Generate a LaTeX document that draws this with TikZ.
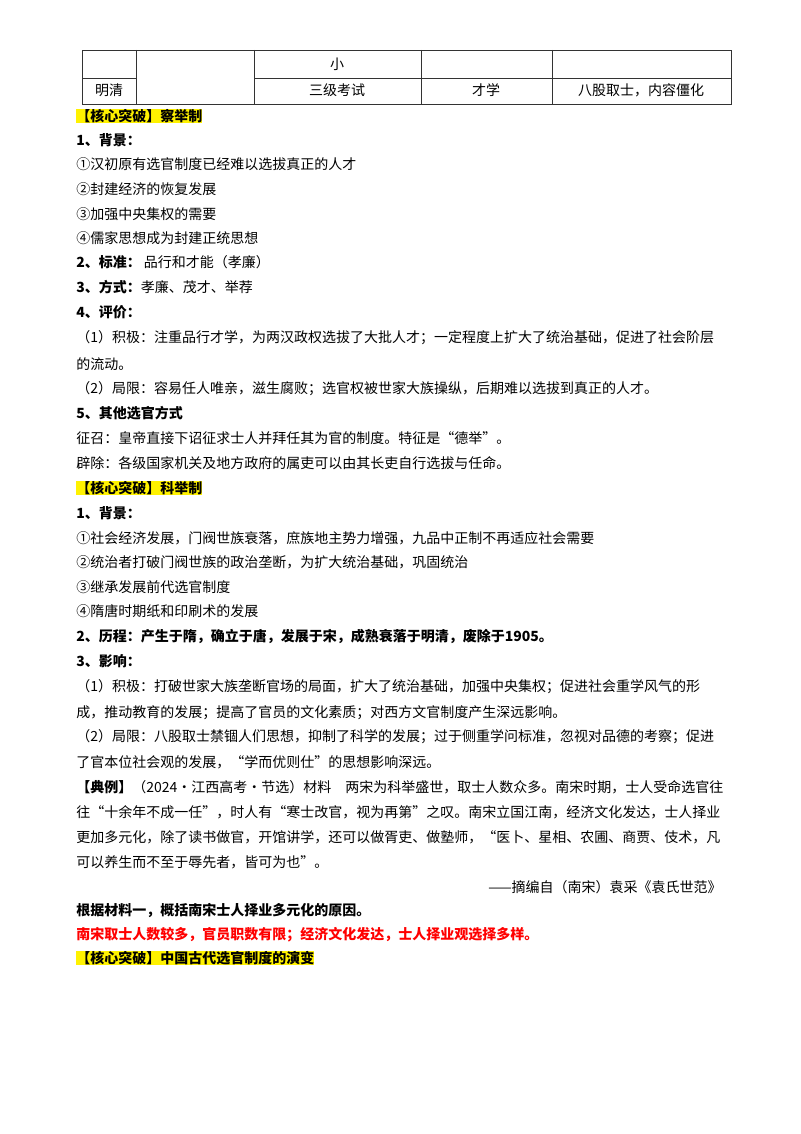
\documentclass[tikz,border=0pt]{standalone}
\usepackage{fontspec}
\setmainfont{Noto Sans CJK SC}
\begin{document}
\begin{tikzpicture}[x=0.75pt,y=-0.75pt,
  t/.style={anchor=west,inner sep=0pt,font=\fontsize{10.5}{12}\selectfont},
  c/.style={inner sep=0pt,font=\fontsize{10.5}{12}\selectfont},
  hl/.style={t,fill=yellow,font=\fontsize{10.5}{12}\selectfont\bfseries},
  b/.style={t,font=\fontsize{10.5}{12}\selectfont\bfseries},
  red/.style={t,text=red,font=\fontsize{10.5}{12}\selectfont\bfseries},
  grid/.style={draw=black!80,line width=0.6pt}]
\useasboundingbox (0,0) rectangle (800,1134);
% table
\draw[grid] (82,50) rectangle (731,104);
\draw[grid] (136,50) -- (136,104) (254,50) -- (254,104) (421,50) -- (421,104) (552,50) -- (552,104);
\draw[grid] (82,78) -- (136,78) (254,78) -- (731,78);
\node[c] (x1) at (337,64) {小};
\node[c] (x2) at (109,90) {明清};
\node[c] (x3) at (337,90) {三级考试};
\node[c] (x4) at (486,90) {才学};
\node[c] (x5) at (641,90) {八股取士，内容僵化};
% 察举制
\node[hl] (h1) at (76,116) {【核心突破】察举制};
\node[b] (a1) at (76,140) {1、背景：};
\node[t] (a2) at (76,164) {①汉初原有选官制度已经难以选拔真正的人才};
\node[t] (a3) at (76,189) {②封建经济的恢复发展};
\node[t] (a4) at (76,214) {③加强中央集权的需要};
\node[t] (a5) at (76,238) {④儒家思想成为封建正统思想};
\node[t] (a6) at (76,262) {\textbf{2、标准：}\ 品行和才能（孝廉）};
\node[t] (a7) at (76,287) {\textbf{3、方式：}孝廉、茂才、举荐};
\node[b] (a8) at (76,312) {4、评价：};
\node[t] (a9) at (76,338) {（1）积极：注重品行才学，为两汉政权选拔了大批人才；一定程度上扩大了统治基础，促进了社会阶层};
\node[t] (a10) at (76,364) {的流动。};
\node[t] (a11) at (76,389) {（2）局限：容易任人唯亲，滋生腐败；选官权被世家大族操纵，后期难以选拔到真正的人才。};
\node[b] (a12) at (76,413) {5、其他选官方式};
\node[t] (a13) at (76,438) {征召：皇帝直接下诏征求士人并拜任其为官的制度。特征是“德举”。};
\node[t] (a14) at (76,463) {辟除：各级国家机关及地方政府的属吏可以由其长吏自行选拔与任命。};
% 科举制
\node[hl] (h2) at (76,488) {【核心突破】科举制};
\node[b] (k1) at (76,513) {1、背景：};
\node[t] (k2) at (76,538) {①社会经济发展，门阀世族衰落，庶族地主势力增强，九品中正制不再适应社会需要};
\node[t] (k3) at (76,562) {②统治者打破门阀世族的政治垄断，为扩大统治基础，巩固统治};
\node[t] (k4) at (76,587) {③继承发展前代选官制度};
\node[t] (k5) at (76,611) {④隋唐时期纸和印刷术的发展};
\node[b] (k6) at (76,636) {2、历程：产生于隋，确立于唐，发展于宋，成熟衰落于明清，废除于1905。};
\node[b] (k7) at (76,661) {3、影响：};
\node[t] (k8) at (76,687) {（1）积极：打破世家大族垄断官场的局面，扩大了统治基础，加强中央集权；促进社会重学风气的形};
\node[t] (k9) at (76,713) {成，推动教育的发展；提高了官员的文化素质；对西方文官制度产生深远影响。};
\node[t] (k10) at (76,737) {（2）局限：八股取士禁锢人们思想，抑制了科学的发展；过于侧重学问标准，忽视对品德的考察；促进};
\node[t] (k11) at (76,762) {了官本位社会观的发展，“学而优则仕”的思想影响深远。};
\node[t] (k12) at (76,787) {\textbf{【典例】}（2024·江西高考·节选）材料\quad 两宋为科举盛世，取士人数众多。南宋时期，士人受命选官往};
\node[t] (k13) at (76,812) {往“十余年不成一任”，时人有“寒士改官，视为再第”之叹。南宋立国江南，经济文化发达，士人择业};
\node[t] (k14) at (76,837) {更加多元化，除了读书做官，开馆讲学，还可以做胥吏、做塾师，“医卜、星相、农圃、商贾、伎术，凡};
\node[t] (k15) at (76,862) {可以养生而不至于辱先者，皆可为也”。};
\node[t,anchor=east] (k16) at (722,887) {——摘编自（南宋）袁采《袁氏世范》};
\node[b] (k17) at (76,911) {根据材料一，概括南宋士人择业多元化的原因。};
\node[red] (k18) at (76,935) {南宋取士人数较多，官员职数有限；经济文化发达，士人择业观选择多样。};
\node[hl] (h3) at (76,958) {【核心突破】中国古代选官制度的演变};
\end{tikzpicture}
\end{document}
